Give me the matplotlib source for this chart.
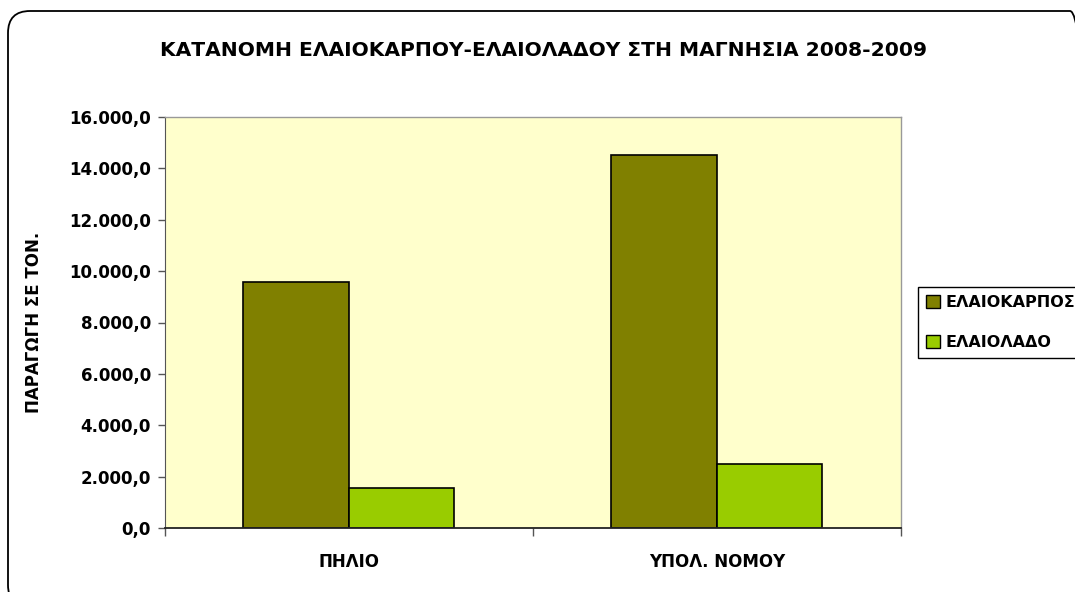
import matplotlib
matplotlib.use("Agg")
import matplotlib.pyplot as plt
from matplotlib.patches import FancyBboxPatch, Patch
from matplotlib.ticker import FuncFormatter, FixedLocator, NullFormatter
import numpy as np

plt.rcParams['font.family'] = ['DejaVu Sans']
plt.rcParams['font.weight'] = 'bold'
plt.rcParams['axes.labelweight'] = 'bold'

categories = ["ΠΗΛΙΟ", "ΥΠΟΛ. ΝΟΜΟΥ"]
series_names = ["ΕΛΑΙΟΚΑΡΠΟΣ", "ΕΛΑΙΟΛΑΔΟ"]
elaiokarpos = [9580, 14520]
elaiolado = [1560, 2480]
colors = ["#808000", "#99CC00"]
title = "ΚΑΤΑΝΟΜΗ ΕΛΑΙΟΚΑΡΠΟΥ-ΕΛΑΙΟΛΑΔΟΥ ΣΤΗ ΜΑΓΝΗΣΙΑ 2008-2009"
ylabel = "ΠΑΡΑΓΩΓΗ ΣΕ ΤΟΝ."
yticks = [0, 2000, 4000, 6000, 8000, 10000, 12000, 14000, 16000]

W, H = 1075, 592
fig = plt.figure(figsize=(W / 100, H / 100), dpi=100)

# rounded outer frame, mostly running off the right and bottom edges
frame = FancyBboxPatch((8 / W, -15 / H), (1092 - 8) / W, (H - 11 + 15) / H,
                       boxstyle="round,pad=0,rounding_size=%f" % (22 / W),
                       mutation_aspect=W / H,
                       transform=fig.transFigure, fill=False,
                       edgecolor="black", linewidth=1.3)
fig.patches.append(frame)

ax = fig.add_axes([165 / W, 64 / H, 735.7 / W, 411 / H])
ax.set_facecolor("#FFFFCC")

x = np.arange(len(categories))
w = 0.287
ax.bar(x - w / 2, elaiokarpos, w, color=colors[0], edgecolor="black", linewidth=1.2, zorder=2)
ax.bar(x + w / 2, elaiolado, w, color=colors[1], edgecolor="black", linewidth=1.2, zorder=2)

ax.set_xlim(-0.5, 1.5)
ax.set_ylim(0, 16000)
ax.set_yticks(yticks)
ax.yaxis.set_major_formatter(FuncFormatter(
    lambda v, p: "{:,.1f}".format(v).replace(",", "X").replace(".", ",").replace("X", ".")))
ax.tick_params(axis="y", direction="out", length=5, width=1, color="#555555",
               labelsize=12, pad=5)

ax.xaxis.set_major_locator(FixedLocator([-0.5, 0.5, 1.5]))
ax.xaxis.set_major_formatter(NullFormatter())
ax.xaxis.set_minor_locator(FixedLocator(x))
ax.set_xticklabels(categories, minor=True)
ax.tick_params(axis="x", which="major", direction="out", length=6, width=1, color="#555555")
ax.tick_params(axis="x", which="minor", length=0, labelsize=12, pad=18)

for s in ["top", "right"]:
    ax.spines[s].set_color("#999999")
    ax.spines[s].set_linewidth(1)
ax.spines["left"].set_color("#555555")
ax.spines["bottom"].set_color("#222222")
ax.spines["bottom"].set_linewidth(1.3)

ax.set_ylabel(ylabel, fontsize=12, labelpad=19)

fig.text(544 / W, 1 - 50 / H, title, ha="center", va="center", fontsize=14.6)

handles = [Patch(facecolor=c, edgecolor="black", linewidth=1) for c in colors]
fig.legend(handles, series_names, loc="upper left",
           bbox_to_anchor=(918 / W, 1 - 287 / H), fancybox=False,
           edgecolor="black", framealpha=1, fontsize=11.5, handlelength=0.85,
           handleheight=0.85, handletextpad=0.4, labelspacing=1.55, borderpad=0.5,
           borderaxespad=0)

fig.savefig("out.png", dpi=100)
